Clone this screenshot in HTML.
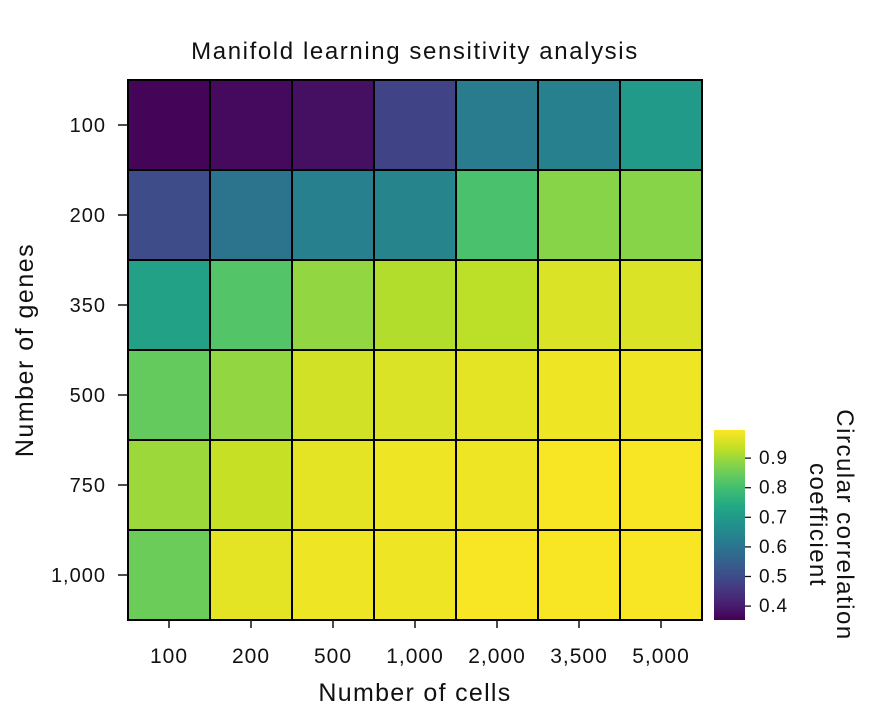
<!DOCTYPE html>
<html><head><meta charset="utf-8">
<style>
body{margin:0;background:#fff;font-family:"Liberation Sans","DejaVu Sans",sans-serif;}
svg text{font-family:"Liberation Sans","DejaVu Sans",sans-serif;fill:#111;}
</style></head><body>
<svg id="chart" width="869" height="714" viewBox="0 0 869 714">
<text x="415" y="59" font-size="24" letter-spacing="1.6" text-anchor="middle">Manifold learning sensitivity analysis</text>
<text x="415" y="701" font-size="25" letter-spacing="1.3" text-anchor="middle">Number of cells</text>
<text transform="translate(33,350) rotate(-90)" font-size="25" letter-spacing="1.5" text-anchor="middle">Number of genes</text>
<g id="cells"></g><g id="axes"></g><g id="cbar"></g>
<text transform="translate(820,525) rotate(90)" font-size="24" letter-spacing="1.5" text-anchor="middle"><tspan x="0" dy="-17">Circular correlation</tspan><tspan x="0" dy="27">coefficient</tspan></text>
</svg>
<script>
const xCategories=["100","200","500","1,000","2,000","3,500","5,000"];
const yCategories=["100","200","350","500","750","1,000"];
const row100=[0.36,0.37,0.38,0.48,0.62,0.63,0.70];
const row200=[0.50,0.60,0.63,0.64,0.81,0.88,0.88];
const row350=[0.72,0.82,0.89,0.92,0.93,0.96,0.96];
const row500=[0.84,0.89,0.95,0.96,0.97,0.98,0.98];
const row750=[0.90,0.94,0.97,0.98,0.98,0.99,0.99];
const row1000=[0.85,0.97,0.98,0.98,0.99,0.99,0.99];
const values=[row100,row200,row350,row500,row750,row1000];
const cbarTicks=[0.4,0.5,0.6,0.7,0.8,0.9];
const vmin=0.353,vmax=0.995;
const NS="http://www.w3.org/2000/svg";
const vir=["#440154","#482475","#414487","#355f8d","#2a788e","#21918c","#22a884","#44bf70","#7ad151","#bddf26","#fde725"];
function hx(h){return [1,3,5].map(i=>parseInt(h.substr(i,2),16));}
function cmap(v){let t=Math.max(0,Math.min(1,(v-vmin)/(vmax-vmin)))*10;let i=Math.min(9,Math.floor(t)),f=t-i;const a=hx(vir[i]),b=hx(vir[i+1]);return "rgb("+a.map((c,k)=>Math.round(c+(b[k]-c)*f)).join(",")+")";}
const X0=128,X1=702,Y0=80,Y1=620;
const cw=(X1-X0)/xCategories.length,ch=(Y1-Y0)/yCategories.length;
const xs=i=>X0+i*cw, ys=j=>Y0+j*ch;
function mk(tag,at,parent){const e=document.createElementNS(NS,tag);for(const k in at)e.setAttribute(k,at[k]);parent.appendChild(e);return e;}
const cells=document.getElementById('cells'),axes=document.getElementById('axes'),cb=document.getElementById('cbar');
values.forEach((row,j)=>row.forEach((v,i)=>{
 const r=mk('rect',{x:xs(i),y:ys(j),width:cw,height:ch,fill:cmap(v),stroke:"#000","stroke-width":2},cells);
 
 
}));
xCategories.forEach((c,i)=>{
 const cx=xs(i)+cw/2;
 mk('line',{x1:cx,x2:cx,y1:Y1,y2:Y1+8,stroke:"#111","stroke-width":1.5},axes);
 const t=mk('text',{x:cx,y:663,"font-size":21,"letter-spacing":1,"text-anchor":"middle"},axes);t.textContent=c;
 
 
});
yCategories.forEach((c,j)=>{
 const cy=ys(j)+ch/2;
 mk('line',{x1:X0-10,x2:X0,y1:cy,y2:cy,stroke:"#111","stroke-width":1.5},axes);
 const t=mk('text',{x:X0-22,y:cy+7,"font-size":20,"letter-spacing":1,"text-anchor":"end"},axes);t.textContent=c;
 
 
});
const CX=714,CW=31,CT=430,CB=620;
const cby=v=>CB-(v-vmin)/(vmax-vmin)*(CB-CT);
const defs=mk('defs',{},cb);const g=mk('linearGradient',{id:'vg',x1:0,y1:1,x2:0,y2:0},defs);
for(let k=0;k<=20;k++){const v=vmin+(vmax-vmin)*k/20;mk('stop',{offset:k/20,"stop-color":cmap(v)},g);}
const bar=mk('rect',{x:CX,y:CT,width:CW,height:CB-CT,fill:"url(#vg)"},cb);


cbarTicks.forEach(v=>{
 const y=cby(v);
 mk('line',{x1:CX+CW,x2:CX+CW+6,y1:y,y2:y,stroke:"#111","stroke-width":1.3},cb);
 const t=mk('text',{x:CX+CW+14,y:y+6,"font-size":19,"letter-spacing":0.8},cb);t.textContent=v.toFixed(1);
 
 
});
</script>
</body></html>
